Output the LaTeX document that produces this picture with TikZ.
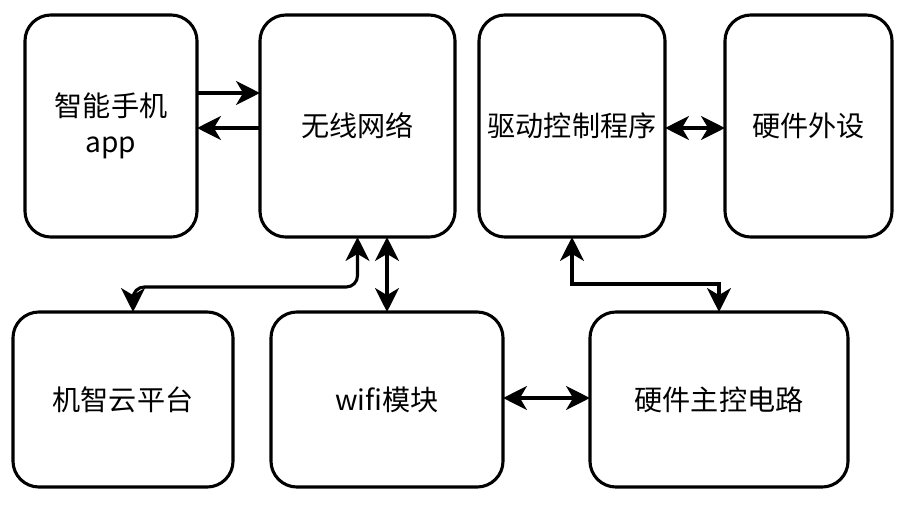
\documentclass[tikz,border=0pt]{standalone}
\usepackage{fontspec}
\setmainfont{Noto Sans CJK SC}
\usetikzlibrary{arrows.meta}
\begin{document}
\begin{tikzpicture}[x=0.025cm,y=-0.025cm,
    blk/.style={draw, line width=2.2pt, rounded corners=0.65cm, outer sep=0pt,
      align=center, font=\fontsize{20}{26}\selectfont},
    conn/.style={line width=2.2pt, -{Stealth[length=17pt,width=17pt,inset=5pt]}},
    dconn/.style={line width=2.2pt, {Stealth[length=17pt,width=17pt,inset=5pt]}-{Stealth[length=17pt,width=17pt,inset=5pt]}}]
  \useasboundingbox (0,0) rectangle (907,513);
  \node[blk, minimum width=4.3cm, minimum height=5.55cm] (app) at (111,126) {智能手机\\app};
  \node[blk, minimum width=4.875cm, minimum height=5.55cm] (wlan) at (357.5,126) {无线网络};
  \node[blk, minimum width=4.65cm, minimum height=5.55cm] (driver) at (572,126) {驱动控制程序};
  \node[blk, minimum width=4.175cm, minimum height=5.55cm] (periph) at (808.5,126) {硬件外设};
  \node[blk, minimum width=5.5cm, minimum height=4.375cm] (cloud) at (123,399.5) {机智云平台};
  \node[blk, minimum width=5.8cm, minimum height=4.375cm] (wifi) at (387,399.5) {wifi模块};
  \node[blk, minimum width=6.45cm, minimum height=4.375cm] (mcu) at (719,399.5) {硬件主控电路};

  \draw[conn] (app.east |- 0,93) -- (wlan.west |- 0,93);
  \draw[conn] (wlan.west |- 0,128) -- (app.east |- 0,128);
  \draw[dconn] (driver.east |- 0,128) -- (periph.west |- 0,128);
  \draw[dconn, rounded corners=8pt] (wlan.south) -- (wlan.south |- 0,287) -- (133,287) -- (cloud.north -| 133,0);
  \draw[dconn] (wlan.south -| wifi.north) -- (wifi.north);
  \draw[dconn] (driver.south) -- (driver.south |- 0,284) -- (mcu.north |- 0,284) -- (mcu.north);
  \draw[dconn] (wifi.east |- 0,398) -- (mcu.west |- 0,398);
\end{tikzpicture}
\end{document}
